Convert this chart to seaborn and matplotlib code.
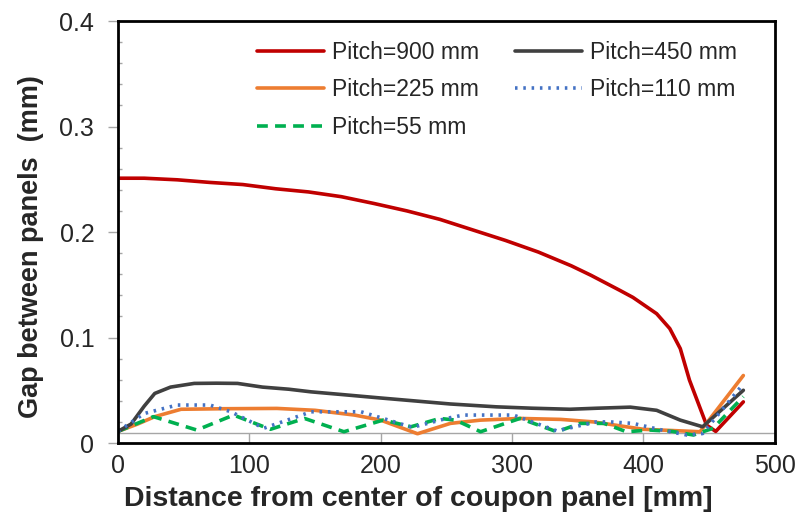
import matplotlib
matplotlib.use("Agg")
import matplotlib.pyplot as plt
import seaborn as sns
from matplotlib.ticker import MultipleLocator, FuncFormatter

# Datos
x_900 = [0, 20, 45, 70, 95, 120, 145, 170, 195, 220, 245, 270, 295, 320, 345,
         360, 382, 392, 410, 420, 428, 435, 448, 455, 476]
y_900 = [0.251, 0.251, 0.2495, 0.247, 0.245, 0.241, 0.238, 0.2335, 0.227, 0.220,
         0.212, 0.202, 0.192, 0.181, 0.168, 0.159, 0.1447, 0.138, 0.1226, 0.1085,
         0.0895, 0.0596, 0.017, 0.011, 0.039]

x_450 = [0, 10, 20, 28, 40, 58, 75, 91, 110, 130, 147, 170, 197, 225, 253, 288,
         315, 344, 365, 390, 410, 428, 445, 476]
y_450 = [0.011, 0.018, 0.035, 0.047, 0.053, 0.0565, 0.0567, 0.0565, 0.053, 0.051,
         0.0485, 0.046, 0.043, 0.040, 0.037, 0.0343, 0.033, 0.032, 0.033, 0.034,
         0.031, 0.0217, 0.0154, 0.050]

x_225 = [0, 15, 28, 48, 80, 121, 150, 180, 200, 228, 253, 276, 306, 337, 362,
         400, 443, 476]
y_225 = [0.011, 0.018, 0.025, 0.032, 0.0325, 0.0328, 0.031, 0.0265, 0.0217,
         0.0088, 0.0186, 0.0217, 0.0233, 0.0224, 0.020, 0.013, 0.0107, 0.064]

x_110 = [0, 20, 45, 70, 86, 111, 147, 185, 200, 224, 250, 263, 301, 334, 364,
         375, 392, 415, 433, 445, 474]
y_110 = [0.011, 0.028, 0.036, 0.036, 0.0296, 0.014, 0.0296, 0.0296, 0.024,
         0.0148, 0.0233, 0.0265, 0.0265, 0.0115, 0.020, 0.020, 0.0186, 0.012,
         0.0076, 0.009, 0.053]

x_55 = [0, 27, 60, 88, 116, 142, 172, 202, 223, 245, 257, 276, 306, 334, 352,
        370, 387, 405, 422, 438, 453, 476]
y_55 = [0.011, 0.025, 0.0123, 0.0265, 0.013, 0.0233, 0.0107, 0.0218, 0.0154,
        0.0233, 0.0217, 0.0107, 0.0233, 0.0107, 0.0186, 0.0186, 0.0107, 0.0123,
        0.011, 0.0076, 0.014, 0.044]

sns.set_style("white")
plt.rcParams["font.family"] = ["Liberation Sans", "DejaVu Sans"]

fig = plt.figure(figsize=(8.08, 5.19), dpi=100)
ax = fig.add_axes([0.146, 0.1464, 0.813, 0.8131])

sns.lineplot(x=x_900, y=y_900, sort=False, color="#C00000", lw=2.6,
             label="Pitch=900 mm", ax=ax)
sns.lineplot(x=x_225, y=y_225, sort=False, color="#ED7D31", lw=2.6,
             label="Pitch=225 mm", ax=ax)
sns.lineplot(x=x_55, y=y_55, sort=False, color="#00B050", lw=2.6,
             linestyle=(0, (3, 2)), label="Pitch=55 mm", ax=ax)
sns.lineplot(x=x_450, y=y_450, sort=False, color="#404040", lw=2.6,
             label="Pitch=450 mm", ax=ax)
sns.lineplot(x=x_110, y=y_110, sort=False, color="#4472C4", lw=2.6,
             linestyle=(0, (0.7, 1.6)), label="Pitch=110 mm", ax=ax)

# Línea gris del eje horizontal
ax.axhline(0.0095, color="#A6A6A6", lw=1.0, zorder=1)

ax.set_xlim(0, 500)
ax.set_ylim(0, 0.4)
ax.xaxis.set_major_locator(MultipleLocator(100))
ax.yaxis.set_major_locator(MultipleLocator(0.1))
ax.yaxis.set_minor_locator(MultipleLocator(0.02))
ax.yaxis.set_major_formatter(FuncFormatter(lambda v, p: f"{v:g}"))

ax.tick_params(axis="x", which="major", direction="in", length=7, width=1,
               color="#A6A6A6", labelsize=18, pad=8)
ax.tick_params(axis="y", which="major", direction="out", length=7, width=1,
               color="#A6A6A6", labelsize=18, pad=10, left=True)
ax.tick_params(axis="y", which="minor", direction="in", length=3, width=1,
               color="#A6A6A6", left=True)
ax.tick_params(axis="x", bottom=True)

for side in ["top", "right", "bottom", "left"]:
    ax.spines[side].set_color("black")
    ax.spines[side].set_linewidth(2)

ax.set_xlabel("Distance from center of coupon panel [mm]", fontsize=20.5,
              fontweight="bold")
ax.set_ylabel("Gap between panels  (mm)", fontsize=19.5, fontweight="bold")
ax.xaxis.set_label_coords(0.457, -0.103)
ax.yaxis.set_label_coords(-0.113, 0.465)

ax.legend(ncol=2, frameon=False, fontsize=16.5, handlelength=2.9,
          columnspacing=1.6, labelspacing=0.62, handletextpad=0.35,
          borderaxespad=0, loc="upper right", bbox_to_anchor=(0.956, 0.974))

plt.savefig("out.png", dpi=100)
plt.close()
